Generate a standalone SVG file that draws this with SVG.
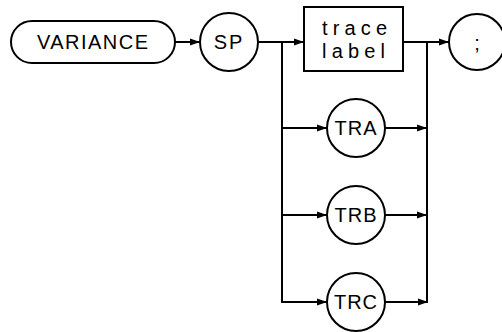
<svg xmlns="http://www.w3.org/2000/svg" width="502" height="332" viewBox="0 0 502 332">
<style>
.s{fill:none;stroke:#000;stroke-width:2}
.t{font-family:"Liberation Sans",Arial,sans-serif;font-size:20px;fill:#000}
.c{stroke:#000;stroke-width:2;fill:none}
</style>
<defs>
<marker id="a" markerUnits="userSpaceOnUse" markerWidth="11" markerHeight="8" refX="10" refY="4" orient="auto">
<path d="M0,0.5 L10,4 L0,7.5 z" fill="#000"/>
</marker>
</defs>
<rect width="502" height="332" fill="#fff"/>
<g id="connectors">
<line class="c" x1="175" y1="42" x2="200" y2="42" marker-end="url(#a)"/>
<line class="c" x1="258" y1="42" x2="304" y2="42" marker-end="url(#a)"/>
<line class="c" x1="403" y1="42" x2="449" y2="42" marker-end="url(#a)"/>
<line class="c" x1="282" y1="42" x2="282" y2="302"/>
<line class="c" x1="427" y1="42" x2="427" y2="302"/>
<line class="c" x1="281" y1="128" x2="327" y2="128" marker-end="url(#a)"/>
<line class="c" x1="281" y1="215" x2="327" y2="215" marker-end="url(#a)"/>
<line class="c" x1="281" y1="302" x2="327" y2="302" marker-end="url(#a)"/>
<line class="c" x1="385" y1="128" x2="427" y2="128" marker-end="url(#a)"/>
<line class="c" x1="385" y1="215" x2="427" y2="215" marker-end="url(#a)"/>
<line class="c" x1="385" y1="302" x2="428" y2="302" marker-end="url(#a)"/>
</g>
<g id="variance">
<rect class="s" x="11" y="21" width="164" height="42" rx="21"/>
<text class="t" x="37" y="49" textLength="111" lengthAdjust="spacing">VARIANCE</text>
</g>
<g id="sp">
<circle class="s" cx="229" cy="42" r="29"/>
<text class="t" x="229" y="49" text-anchor="middle" letter-spacing="2">SP</text>
</g>
<g id="tracelabel">
<rect class="s" x="304" y="7" width="99" height="64"/>
<text class="t" x="322" y="35" textLength="65" lengthAdjust="spacing">trace</text>
<text class="t" x="322" y="58" textLength="63" lengthAdjust="spacing">label</text>
</g>
<g id="semicolon">
<circle class="s" cx="477" cy="42" r="28"/>
<text class="t" x="477" y="50" text-anchor="middle" font-size="22">;</text>
</g>
<g id="tra">
<circle class="s" cx="356" cy="128" r="29"/>
<text class="t" x="356" y="135" text-anchor="middle" letter-spacing="1">TRA</text>
</g>
<g id="trb">
<circle class="s" cx="356" cy="215" r="29"/>
<text class="t" x="356" y="222" text-anchor="middle" letter-spacing="1">TRB</text>
</g>
<g id="trc">
<circle class="s" cx="356" cy="302" r="29"/>
<text class="t" x="356" y="309" text-anchor="middle" letter-spacing="1">TRC</text>
</g>
</svg>
